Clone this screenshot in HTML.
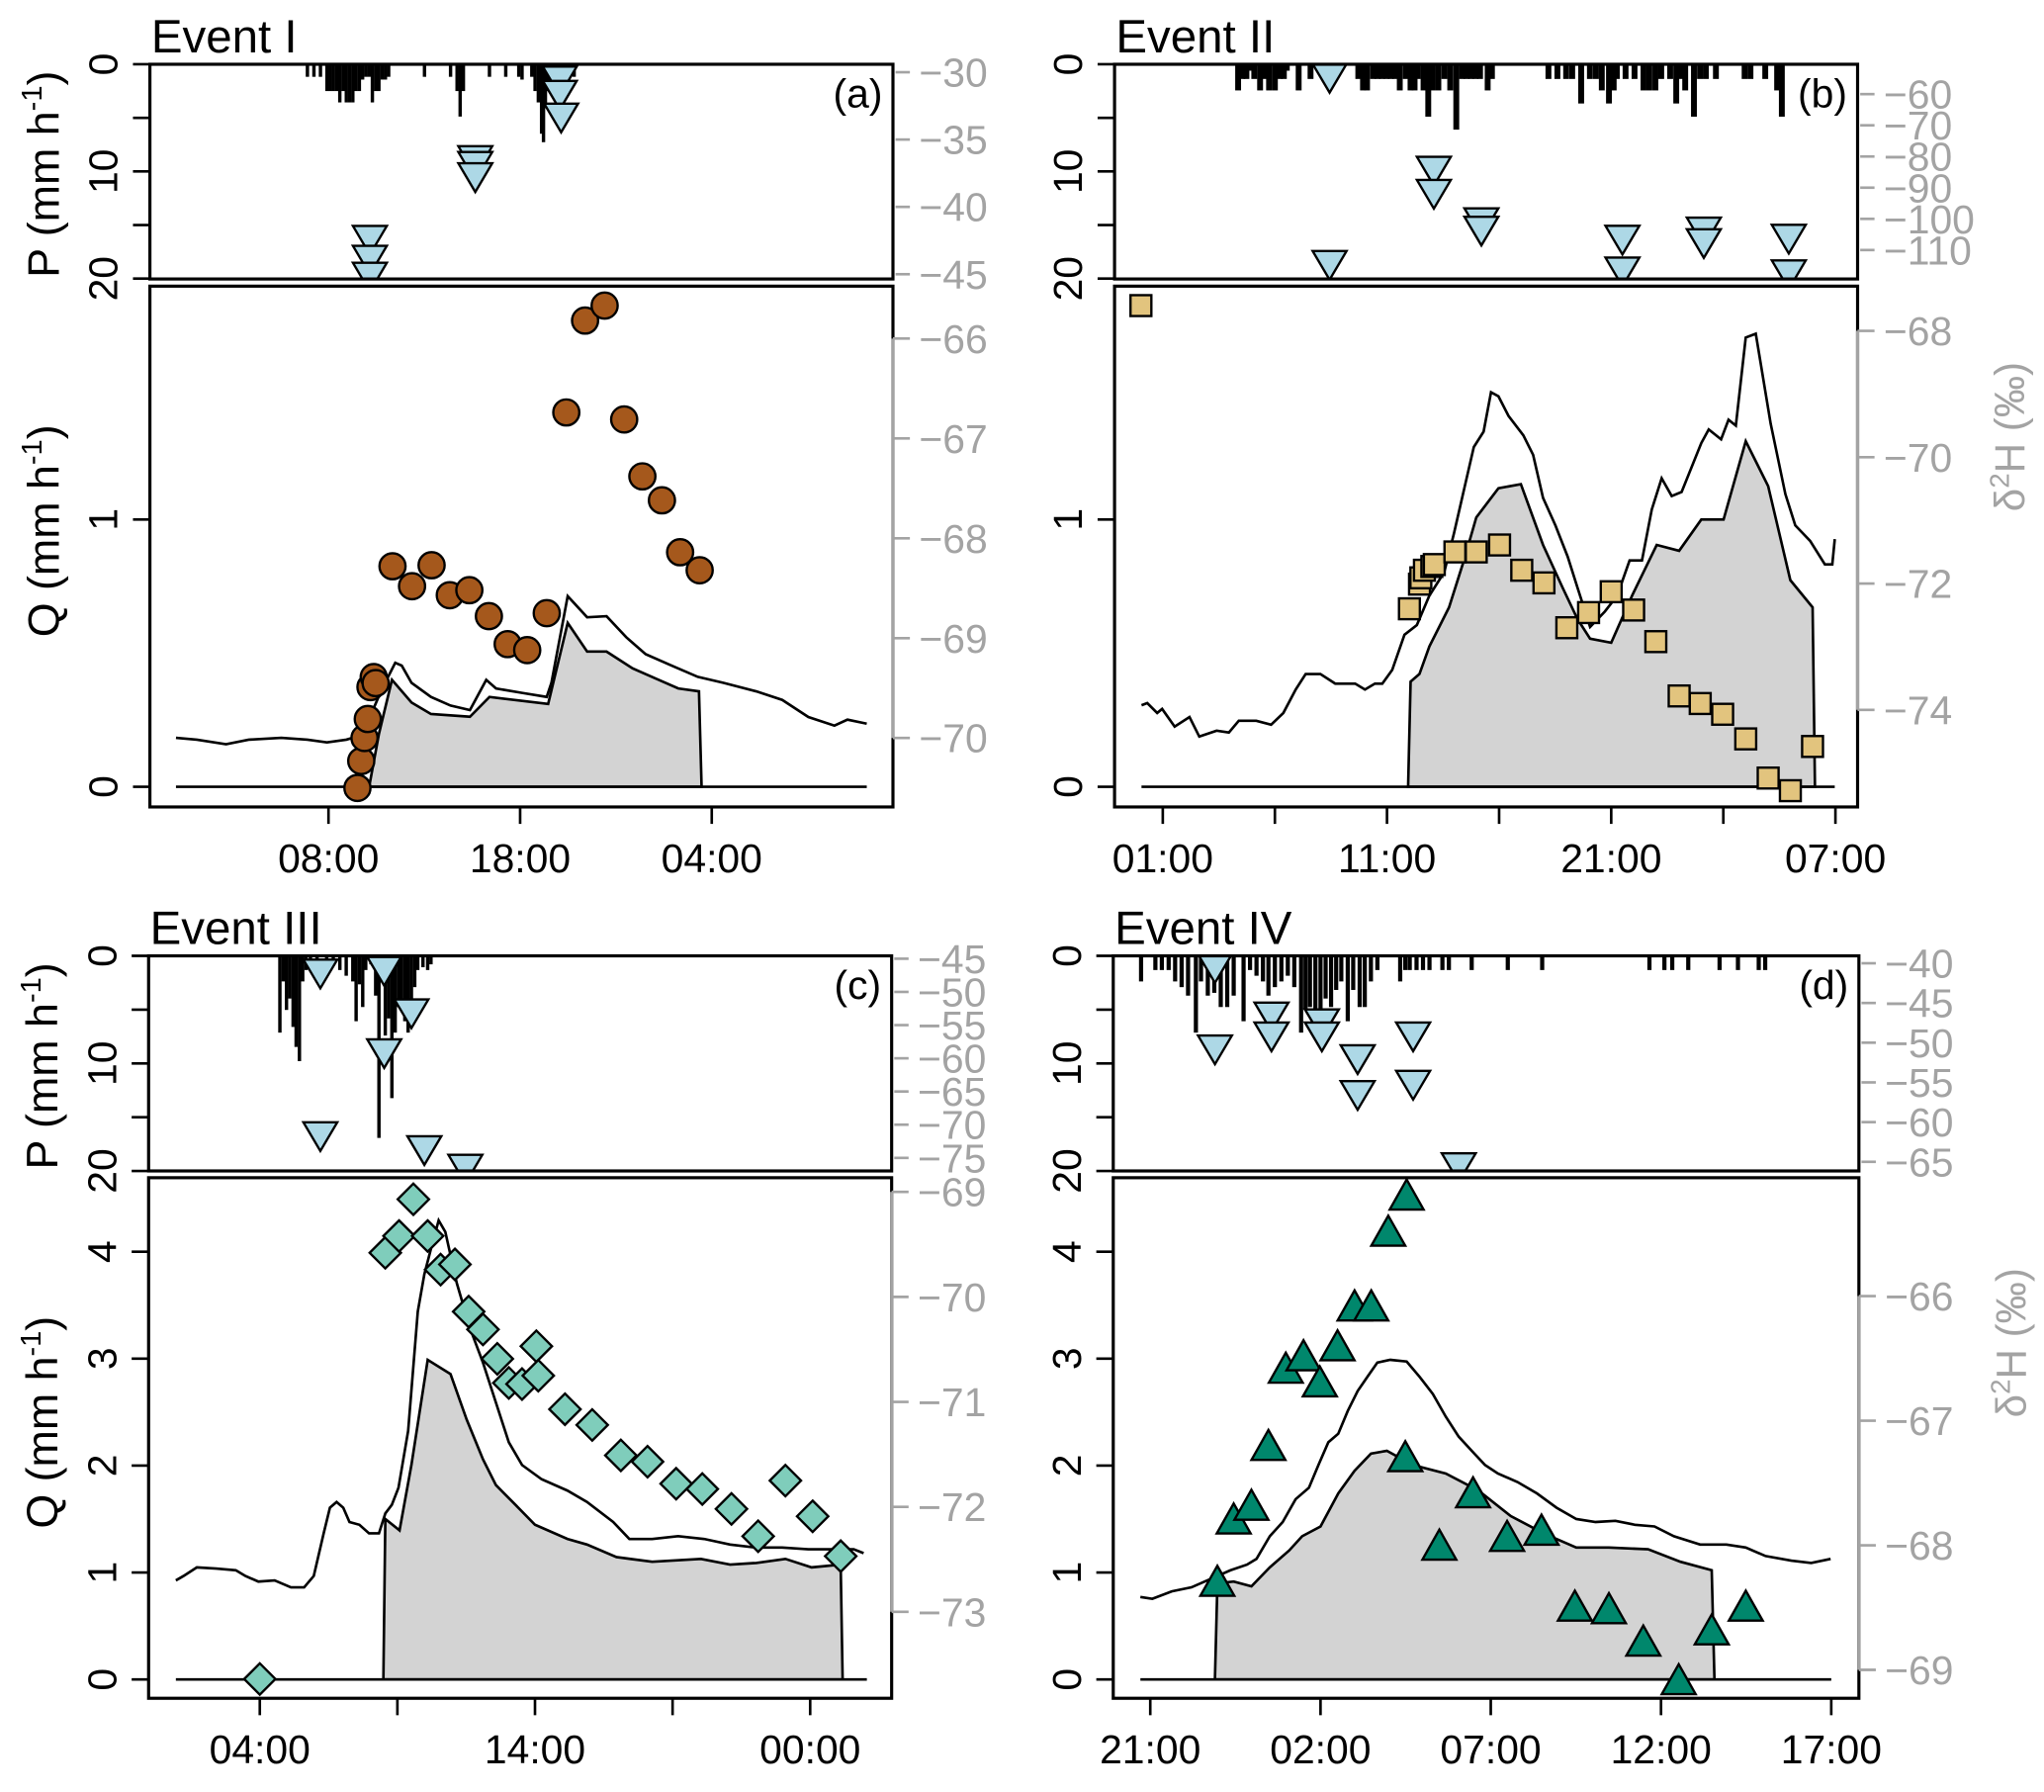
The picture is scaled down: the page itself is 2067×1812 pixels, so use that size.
<!DOCTYPE html>
<html><head><meta charset="utf-8"><style>
html,body{margin:0;padding:0;background:#fff;}
svg{display:block;font-family:"Liberation Sans",Arial,sans-serif;}
</style></head><body>
<svg id="chart" xmlns="http://www.w3.org/2000/svg" width="2067" height="1812" viewBox="0 0 1568 1374.6" preserveAspectRatio="none"></svg>
<script>
// ---------- Panel a data ----------
const aPrecipT=[6.90,7.24,7.58,7.92,8.08,8.25,8.42,8.59,8.76,8.93,9.10,9.27,9.44,9.61,9.78,9.95,10.12,10.29,10.46,10.63,10.80,10.97,11.14,13.01,14.37,14.71,14.87,15.04,16.40,17.25,17.93,18.10,18.61,18.78,18.95,19.12,19.22,19.32,19.46,19.63,20.14,20.48,20.82];
const aPrecipP=[1.17,1.17,1.17,2.5,2.5,2.5,2.5,3.56,2.5,3.56,3.56,3.56,2.5,2.5,1.43,1.17,1.17,3.56,2.5,2.5,1.43,1.43,1.17,1.17,1.17,2.5,4.88,2.5,1.17,1.17,1.17,1.43,1.17,2.5,3.56,6.48,7.27,4.09,2.5,1.43,1.17,1.43,1.17];
const aRainT=[10.16,10.16,10.16,15.66,15.66,15.66,20.07,20.07,20.14];
const aRainD=[-42.38,-43.86,-45.12,-36.46,-36.89,-37.73,-30.55,-31.61,-33.30];
const aStreamT=[9.51,9.71,9.88,10.05,10.19,10.36,10.46,11.34,12.36,13.38,14.33,15.35,16.37,17.35,18.37,19.39,20.41,21.39,22.41,23.43,24.38,25.40,26.35,27.37];
const aStreamD=[-70.50,-70.23,-70.00,-69.81,-69.49,-69.39,-69.45,-68.28,-68.48,-68.27,-68.57,-68.52,-68.78,-69.06,-69.12,-68.75,-66.74,-65.82,-65.67,-66.81,-67.38,-67.62,-68.14,-68.32];
const aQT=[0.04,1.13,2.65,3.84,5.54,6.90,7.92,8.93,9.44,10.29,10.80,11.48,11.82,12.33,13.35,14.37,15.38,16.23,16.74,18.10,19.39,19.63,20.48,20.82,21.50,22.51,23.53,24.55,25.91,27.27,28.62,30.32,31.68,33.04,34.40,35.08,36.09];
const aQ=[0.183,0.176,0.159,0.176,0.183,0.176,0.166,0.176,0.187,0.283,0.368,0.464,0.453,0.389,0.336,0.304,0.287,0.400,0.368,0.351,0.336,0.389,0.713,0.687,0.634,0.638,0.560,0.496,0.453,0.411,0.389,0.357,0.325,0.261,0.229,0.251,0.236];
const aEvT=[10.12,10.63,11.31,12.33,13.35,15.38,16.40,19.46,20.48,21.50,22.51,23.87,25.23,26.25,27.33,27.47];
const aEvQ=[0,0.198,0.400,0.315,0.272,0.262,0.336,0.310,0.613,0.506,0.506,0.443,0.400,0.368,0.357,0];
const aBase=[0.04,36.09];
const aXTicks=[8,18,28], aXLabels=['08:00','18:00','04:00'];
const aQTicks=[0,1], aQLabels=['0','1'];
const aDtTicks=[-30,-35,-40,-45], aDbTicks=[-66,-67,-68,-69,-70];

// ---------- Panel b data ----------
const bPrecipT=[4.36,4.55,4.73,4.89,5.08,5.34,5.53,5.74,6.0,6.22,6.40,6.53,7.06,7.59,9.72,9.93,10.11,10.38,10.58,10.78,10.98,11.17,11.37,11.57,11.84,12.05,12.23,12.37,12.63,12.84,13.03,13.29,13.56,13.82,14.09,14.35,14.55,14.75,14.95,15.15,15.49,15.68,18.2,18.6,18.99,19.26,19.66,20.05,20.32,20.58,20.9,21.11,21.25,21.64,22.04,22.44,22.7,22.97,23.23,23.63,23.9,24.08,24.3,24.69,24.96,25.22,25.67,26.95,27.21,27.87,28.4,28.61];
const bPrecipP=[2.44,1.37,1.37,0.6,1.37,2.44,1.37,2.44,2.44,1.37,1.37,0.6,2.44,1.37,1.37,2.44,2.44,1.37,1.37,1.37,1.37,1.37,1.37,2.44,1.37,2.44,2.44,1.37,2.44,4.89,2.44,2.44,1.37,2.44,6.1,1.37,1.37,1.37,1.37,1.37,2.44,1.37,1.37,1.37,1.37,1.37,3.66,1.37,1.37,2.44,3.66,2.44,1.37,1.37,1.37,2.44,2.44,2.44,1.37,1.37,3.66,1.37,2.44,4.89,1.37,1.37,1.37,1.37,1.37,1.37,2.44,4.89];
const bRainT=[8.44,8.44,13.09,13.09,15.21,15.21,21.50,21.50,25.13,25.13,28.92,28.92];
const bRainD=[-54.5,-114.5,-84.3,-91.7,-100.8,-103.5,-106.4,-116.6,-103.8,-107.5,-106.1,-117.5];
const bStreamT=[0.025,12.0,12.45,12.51,12.67,13.0,13.11,14.03,14.98,16.02,17.01,18.0,19.02,19.99,21.0,22.0,22.99,24.03,24.97,25.97,27.0,28.0,28.99,29.98];
const bStreamD=[-67.60,-72.40,-72.01,-71.91,-71.79,-71.73,-71.70,-71.50,-71.50,-71.39,-71.79,-71.99,-72.70,-72.46,-72.13,-72.42,-72.92,-73.78,-73.90,-74.07,-74.46,-75.08,-75.28,-74.58];
const bQT=[0.05,0.31,0.75,0.97,1.53,2.19,2.63,3.40,3.95,4.39,5.17,5.83,6.38,6.93,7.37,8.03,8.69,9.58,10.02,10.46,10.79,11.23,11.78,12.33,12.89,13.55,13.99,14.43,14.87,15.31,15.64,15.97,16.42,17.08,17.52,17.96,18.51,19.06,19.50,20.06,20.72,21.27,21.82,22.37,22.81,23.25,23.70,24.14,25.02,25.35,25.90,26.23,26.56,27.00,27.45,28.11,28.77,29.21,29.87,30.53,30.86,30.97];
const bQ=[0.305,0.313,0.276,0.291,0.225,0.261,0.188,0.210,0.203,0.247,0.247,0.232,0.276,0.364,0.422,0.422,0.386,0.386,0.364,0.386,0.386,0.437,0.569,0.605,0.715,0.803,0.949,1.110,1.271,1.329,1.476,1.461,1.388,1.315,1.242,1.081,0.978,0.861,0.744,0.598,0.656,0.715,0.847,0.847,1.037,1.154,1.088,1.103,1.286,1.337,1.300,1.373,1.351,1.681,1.695,1.359,1.095,0.978,0.920,0.832,0.832,0.927];
const bEvT=[11.94,12.05,12.45,12.89,13.77,14.43,14.98,15.97,16.97,17.96,18.84,19.50,20.06,21.00,21.93,23.03,24.03,25.02,26.01,27.00,28.00,28.99,29.98,30.09];
const bEvQ=[0,0.393,0.422,0.525,0.671,0.847,1.008,1.117,1.132,0.905,0.744,0.627,0.554,0.539,0.715,0.905,0.883,1.000,1.000,1.293,1.125,0.773,0.671,0];
const bBase=[0.05,30.97];
const bXTicks=[1,6,11,16,21,26,31], bXLabels=['01:00','','11:00','','21:00','','07:00'];
const bQTicks=[0,1], bQLabels=['0','1'];
const bDtTicks=[-60,-70,-80,-90,-100,-110], bDbTicks=[-68,-70,-72,-74];

// ---------- Panel c data ----------
const cPrecipT=[4.73,4.85,4.97,5.09,5.21,5.32,5.44,5.56,5.68,5.84,6.08,6.43,6.67,6.91,7.14,7.38,7.50,7.62,7.74,7.85,8.04,8.21,8.33,8.44,8.56,8.68,8.80,8.92,9.04,9.15,9.27,9.39,9.51,9.63,9.74,9.93,10.10,10.22];
const cPrecipP=[7.14,2.38,5.03,3.97,6.61,8.47,9.79,2.38,1.32,0.79,1.06,0.53,0.79,1.32,1.85,2.38,6.08,2.65,4.76,1.32,0.79,3.70,16.93,2.38,7.41,5.82,13.23,7.14,4.76,5.03,6.08,7.14,3.97,2.91,1.32,1.06,1.32,0.79];
const cRainT=[6.20,6.20,8.52,8.52,9.51,9.98,11.47];
const cRainD=[-47.1,-71.6,-46.7,-59.1,-53.1,-73.7,-76.5];
const cStreamT=[4.0,8.56,9.06,9.58,10.10,10.57,11.09,11.59,12.11,12.63,13.05,13.53,14.05,14.12,15.09,16.08,17.12,18.09,19.13,20.08,21.14,22.11,23.10,24.09,25.11];
const cStreamD=[-73.64,-69.58,-69.42,-69.07,-69.42,-69.74,-69.69,-70.14,-70.31,-70.59,-70.82,-70.83,-70.47,-70.75,-71.07,-71.22,-71.51,-71.57,-71.78,-71.83,-72.02,-72.28,-71.75,-72.09,-72.47];
const cQT=[0.95,1.23,1.71,2.42,3.13,3.48,3.95,4.54,5.13,5.61,5.96,6.32,6.55,6.79,7.03,7.26,7.62,7.97,8.33,8.56,8.80,9.04,9.39,9.74,9.98,10.22,10.50,10.74,11.16,11.64,12.11,12.58,13.05,13.53,14.24,15.18,15.89,16.84,17.43,18.26,19.20,20.15,21.09,22.04,22.98,23.93,24.87,25.58,25.94];
const cQ=[0.926,0.968,1.048,1.037,1.021,0.968,0.915,0.926,0.862,0.862,0.968,1.367,1.606,1.660,1.606,1.473,1.447,1.367,1.367,1.553,1.633,1.793,2.324,3.441,3.787,4.027,4.293,4.186,3.707,3.282,2.963,2.590,2.218,2.005,1.872,1.766,1.660,1.473,1.314,1.314,1.340,1.314,1.261,1.234,1.234,1.218,1.218,1.218,1.181];
const cEvT=[8.49,8.56,9.08,9.51,10.10,10.93,11.52,12.11,12.58,13.29,14.0,15.18,15.89,16.96,18.26,20.03,21.09,22.04,23.10,24.05,25.11,25.18];
const cEvQ=[0,1.5,1.394,2.005,2.989,2.856,2.431,2.059,1.819,1.633,1.447,1.314,1.261,1.144,1.101,1.128,1.074,1.090,1.128,1.048,1.074,0];
const cBase=[0.95,26.06];
const cXTicks=[4,9,14,19,24], cXLabels=['04:00','','14:00','','00:00'];
const cQTicks=[0,1,2,3,4], cQLabels=['0','1','2','3','4'];
const cDtTicks=[-45,-50,-55,-60,-65,-70,-75], cDbTicks=[-69,-70,-71,-72,-73];

// ---------- Panel d data ----------
const dPrecipT=[20.73,21.15,21.34,21.54,21.73,21.92,22.11,22.34,22.49,22.69,22.88,23.07,23.26,23.45,23.74,23.93,24.12,24.31,24.47,24.66,24.85,25.04,25.23,25.43,25.56,25.69,25.85,26.0,26.15,26.31,26.46,26.61,26.80,26.96,27.15,27.30,27.48,27.67,28.34,28.49,28.62,28.82,29.01,29.20,29.58,29.77,30.44,31.50,32.51,35.66,36.10,36.33,36.80,37.72,38.26,38.87,39.06];
const dPrecipP=[2.38,1.32,1.32,1.32,2.38,2.91,3.70,7.14,2.38,3.70,3.44,4.76,4.76,3.70,6.08,1.32,1.85,2.38,3.70,2.91,2.38,1.85,2.91,7.14,5.03,4.76,5.03,6.88,3.97,4.76,3.17,2.38,6.08,3.17,4.76,4.76,2.38,1.32,2.38,1.32,1.32,1.32,1.32,1.32,1.32,1.32,1.32,1.32,1.32,1.32,1.32,1.32,1.32,1.32,1.32,1.32,1.32];
const dRainT=[22.90,22.90,24.56,24.56,26.04,26.04,27.09,27.09,28.72,28.72,30.06];
const dRainD=[-50.74,-40.50,-46.59,-49.10,-47.45,-49.10,-51.96,-56.48,-49.10,-55.19,-65.57];
const dStreamT=[22.97,23.45,23.97,24.47,24.98,25.50,25.98,26.50,27.00,27.49,27.99,28.53,28.49,29.49,30.48,31.48,32.49,33.47,34.47,35.48,36.52,37.49,38.49];
const dStreamD=[-68.29,-67.79,-67.68,-67.20,-66.58,-66.48,-66.69,-66.40,-66.08,-66.08,-65.48,-65.19,-67.29,-68.00,-67.58,-67.93,-67.88,-68.49,-68.51,-68.77,-69.08,-68.68,-68.49];
const dQT=[20.71,21.06,21.63,22.21,22.78,23.36,23.84,24.12,24.51,24.89,25.27,25.66,25.94,26.23,26.52,26.80,27.09,27.38,27.67,28.05,28.53,28.91,29.30,29.68,30.06,30.44,30.83,31.21,31.79,32.36,32.93,33.51,34.08,34.66,35.23,35.81,36.38,37.15,37.92,38.49,39.07,39.83,40.41,40.98];
const dQ=[0.771,0.755,0.824,0.862,0.941,1.021,1.074,1.128,1.340,1.473,1.686,1.793,2.005,2.218,2.298,2.511,2.697,2.830,2.963,2.989,2.973,2.830,2.670,2.457,2.271,2.138,2.005,1.926,1.846,1.739,1.606,1.500,1.473,1.484,1.447,1.431,1.340,1.261,1.261,1.234,1.154,1.112,1.090,1.128];
const dEvT=[22.90,22.97,23.45,23.97,24.51,25.08,25.46,26.0,26.52,27.0,27.48,27.95,28.72,29.68,30.64,31.59,32.55,33.51,34.47,35.62,36.57,37.49,37.57];
const dEvQ=[0,0.899,0.915,0.872,1.048,1.207,1.340,1.431,1.739,1.952,2.112,2.138,2.005,1.926,1.766,1.527,1.367,1.234,1.234,1.218,1.101,1.021,0];
const dBase=[20.71,41.0];
const dXTicks=[21,26,31,36,41], dXLabels=['21:00','02:00','07:00','12:00','17:00'];
const dQTicks=[0,1,2,3,4], dQLabels=['0','1','2','3','4'];
const dDtTicks=[-40,-45,-50,-55,-60,-65], dDbTicks=[-66,-67,-68,-69];

const pTicks=[0,5,10,15,20], pLabels=['0','','10','','20'];

const NS='http://www.w3.org/2000/svg';
const svg=document.getElementById('chart');
function mk(tag,parent){const e=document.createElementNS(NS,tag);parent.appendChild(e);return e;}
function set(e,o){for(const k in o)e.setAttribute(k,o[k]);}
const GRAY='#a3a3a3';
const defs=mk('defs',svg);

function fmtNum(v){return v<0?'\u2212'+Math.abs(v):String(v);}

function drawPanel(P){
  const g=mk('g',svg);
  
  
  // clip for top box
  const cp=mk('clipPath',defs); cp.setAttribute('id','clip-'+P.id);
  const cr=mk('rect',cp); set(cr,{x:P.x0,y:P.tY0,width:P.x1-P.x0,height:P.tY1-P.tY0});
  const cpb=mk('clipPath',defs); cpb.setAttribute('id','clipb-'+P.id);
  const crb=mk('rect',cpb); set(crb,{x:P.x0,y:P.bY0,width:P.x1-P.x0,height:P.bY1-P.bY0});

  // title
  const t=mk('text',g); set(t,{x:P.x0+1,y:P.tY0-9,'font-size':36,fill:'#000'}); t.textContent=P.title;
   

  // precipitation bars
  const bars=mk('g',g); bars.setAttribute('clip-path','url(#clip-'+P.id+')');
   
  P.pT.forEach((h,i)=>{const r=mk('rect',bars);
    set(r,{x:P.xs(h)-P.bw/2,y:P.yP(0),width:P.bw,height:P.yP(P.pV[i])-P.yP(0),fill:'#000'});
     });

  // rain isotope triangles
  const rt=mk('g',g); rt.setAttribute('clip-path','url(#clip-'+P.id+')');
   
  P.rT.forEach((h,i)=>{const cx=P.xs(h),cy=P.yDt(P.rD[i]);const p=mk('polygon',rt);
    set(p,{points:`${cx-13},${cy-10} ${cx+13},${cy-10} ${cx},${cy+12}`,fill:'#add8e6',stroke:'#000','stroke-width':1.8});
     });

  // top box
  const tb=mk('rect',g); set(tb,{x:P.x0,y:P.tY0,width:P.x1-P.x0,height:P.tY1-P.tY0,fill:'none',stroke:'#000','stroke-width':2.4});
   
  const lab=mk('text',g); set(lab,{x:P.x1-8,y:P.tY0+33,'font-size':31,'text-anchor':'end'}); lab.textContent='('+P.id+')';
   

  // left P axis
  pTicks.forEach((v,i)=>{const y=P.yP(v);const l=mk('line',g);
    set(l,{x1:P.x0-13,x2:P.x0,y1:y,y2:y,stroke:'#000','stroke-width':2});
     
    if(pLabels[i]){const tx=mk('text',g);set(tx,{x:0,y:0,'font-size':31,'text-anchor':'middle',transform:`translate(${P.x0-25},${y}) rotate(-90)`});tx.textContent=pLabels[i];
       }});
  // right top isotope axis
  P.dtTicks.forEach(v=>{const y=P.yDt(v);const l=mk('line',g);
    set(l,{x1:P.x1+2,x2:P.x1+13,y1:y,y2:y,stroke:GRAY,'stroke-width':2});
     
    const tx=mk('text',g);set(tx,{x:P.x1+20,y:y+11,'font-size':31,fill:GRAY});tx.textContent=fmtNum(v);
     });

  // bottom panel: event water area
  const bg=mk('g',g); bg.setAttribute('clip-path','url(#clipb-'+P.id+')');
   
  let d=''; P.eT.forEach((h,i)=>{d+=(i?'L':'M')+P.xs(h).toFixed(1)+','+P.yQ(P.eQ[i]).toFixed(1);});
  const area=mk('path',bg); set(area,{d:d+'Z',fill:'#d3d3d3',stroke:'#000','stroke-width':2});
   
  const base=mk('line',bg); set(base,{x1:P.xs(P.base[0]),x2:P.xs(P.base[1]),y1:P.yQ(0),y2:P.yQ(0),stroke:'#000','stroke-width':2});
   
  let d2=''; P.qT.forEach((h,i)=>{d2+=(i?'L':'M')+P.xs(h).toFixed(1)+','+P.yQ(P.qV[i]).toFixed(1);});
  const ql=mk('path',bg); set(ql,{d:d2,fill:'none',stroke:'#000','stroke-width':2});
   

  // stream isotope markers
  P.sT.forEach((h,i)=>{const cx=P.xs(h),cy=P.yDb(P.sD[i]);let m;
    if(P.shape==='circle'){m=mk('circle',bg);set(m,{cx,cy,r:10,fill:'#a5581c'});}
    else if(P.shape==='square'){m=mk('rect',bg);set(m,{x:cx-8,y:cy-8,width:16,height:16,fill:'#e2c47e'});}
    else if(P.shape==='diamond'){m=mk('polygon',bg);set(m,{points:`${cx},${cy-12} ${cx+12},${cy} ${cx},${cy+12} ${cx-12},${cy}`,fill:'#7fcdbb'});}
    else {m=mk('polygon',bg);set(m,{points:`${cx-13},${cy+11} ${cx+13},${cy+11} ${cx},${cy-12}`,fill:'#00876c'});}
    set(m,{stroke:'#000','stroke-width':1.8});
     });

  const bb=mk('rect',g); set(bb,{x:P.x0,y:P.bY0,width:P.x1-P.x0,height:P.bY1-P.bY0,fill:'none',stroke:'#000','stroke-width':2.4});
   

  // left Q axis
  P.qTicks.forEach((v,i)=>{const y=P.yQ(v);const l=mk('line',g);
    set(l,{x1:P.x0-13,x2:P.x0,y1:y,y2:y,stroke:'#000','stroke-width':2});
     
    const tx=mk('text',g);set(tx,{x:0,y:0,'font-size':31,'text-anchor':'middle',transform:`translate(${P.x0-25},${y}) rotate(-90)`});tx.textContent=P.qLabels[i];
     });
  // right bottom isotope axis
  const y1=P.yDb(P.dbTicks[0]),y2=P.yDb(P.dbTicks[P.dbTicks.length-1]);
  const al=mk('line',g); set(al,{x1:P.x1,x2:P.x1,y1,y2,stroke:GRAY,'stroke-width':2.4});
   
  P.dbTicks.forEach(v=>{const y=P.yDb(v);const l=mk('line',g);
    set(l,{x1:P.x1,x2:P.x1+13,y1:y,y2:y,stroke:GRAY,'stroke-width':2});
     
    const tx=mk('text',g);set(tx,{x:P.x1+20,y:y+11,'font-size':31,fill:GRAY});tx.textContent=fmtNum(v);
     });
  // x axis
  P.xTicks.forEach((h,i)=>{const x=P.xs(h);const l=mk('line',g);
    set(l,{x1:x,x2:x,y1:P.bY1,y2:P.bY1+13,stroke:'#000','stroke-width':2});
     
    if(P.xLabels[i]){const tx=mk('text',g);set(tx,{x,y:P.bY1+50,'font-size':31,'text-anchor':'middle'});tx.textContent=P.xLabels[i];
       }});

  // axis titles
  if(P.leftTitles){
    [['P',(P.tY0+P.tY1)/2+2],['Q',(P.bY0+P.bY1)/2-12]].forEach(([s,cy])=>{
      const tx=mk('text',g);set(tx,{x:0,y:0,'font-size':34,'text-anchor':'middle',transform:`translate(${P.x0-70},${cy}) rotate(-90)`});
      tx.innerHTML=s+' (mm h<tspan font-size="22" dy="-13">-1</tspan><tspan dy="13">)</tspan>';
       });
  }
  if(P.rightTitle){
    const tx=mk('text',g);set(tx,{x:0,y:0,'font-size':32,'text-anchor':'middle',fill:GRAY,transform:`translate(${P.x1+128},${P.rightTitleY}) rotate(-90)`});
    tx.innerHTML='δ<tspan font-size="21" dy="-12">2</tspan><tspan dy="12">H (‰)</tspan>';
     
  }
}

drawPanel({id:'a',title:'Event I',x0:115,x1:685,tY0:49.3,tY1:214,bY0:219.5,bY1:619,
  xs:h=>252+(h-8)*14.7,yP:p=>49.3+p*8.22,yQ:q=>603.5-q*205,yDt:d=>55.4+(-30-d)*10.33,yDb:d=>259.7+(-66-d)*76.6,
  bw:2.6,pT:aPrecipT,pV:aPrecipP,rT:aRainT,rD:aRainD,sT:aStreamT,sD:aStreamD,shape:'circle',
  qT:aQT,qV:aQ,eT:aEvT,eQ:aEvQ,base:aBase,xTicks:aXTicks,xLabels:aXLabels,qTicks:aQTicks,qLabels:aQLabels,
  dtTicks:aDtTicks,dbTicks:aDbTicks,leftTitles:true,rightTitle:false});
drawPanel({id:'b',title:'Event II',x0:855,x1:1425,tY0:49.3,tY1:214,bY0:219.5,bY1:619,
  xs:h=>892+(h-1)*17.2,yP:p=>49.3+p*8.22,yQ:q=>603.5-q*205,yDt:d=>72.2+(-60-d)*2.392,yDb:d=>253.8+(-68-d)*48.45,
  bw:4.5,pT:bPrecipT,pV:bPrecipP,rT:bRainT,rD:bRainD,sT:bStreamT,sD:bStreamD,shape:'square',
  qT:bQT,qV:bQ,eT:bEvT,eQ:bEvQ,base:bBase,xTicks:bXTicks,xLabels:bXLabels,qTicks:bQTicks,qLabels:bQLabels,
  dtTicks:bDtTicks,dbTicks:bDbTicks,leftTitles:false,rightTitle:true,rightTitleY:335});
drawPanel({id:'c',title:'Event III',x0:114,x1:684,tY0:733.2,tY1:898.2,bY0:903.4,bY1:1302.7,
  xs:h=>199.3+(h-4)*21.11,yP:p=>733.2+p*8.25,yQ:q=>1288.3-q*82.04,yDt:d=>735.4+(-45-d)*5.093,yDb:d=>914.3+(-69-d)*80.52,
  bw:2.6,pT:cPrecipT,pV:cPrecipP,rT:cRainT,rD:cRainD,sT:cStreamT,sD:cStreamD,shape:'diamond',
  qT:cQT,qV:cQ,eT:cEvT,eQ:cEvQ,base:cBase,xTicks:cXTicks,xLabels:cXLabels,qTicks:cQTicks,qLabels:cQLabels,
  dtTicks:cDtTicks,dbTicks:cDbTicks,leftTitles:true,rightTitle:false});
drawPanel({id:'d',title:'Event IV',x0:854,x1:1426,tY0:733.2,tY1:898.2,bY0:903.4,bY1:1302.7,
  xs:h=>882.4+(h-21)*26.12,yP:p=>733.2+p*8.25,yQ:q=>1288.3-q*82.04,yDt:d=>738.9+(-40-d)*6.092,yDb:d=>994.2+(-66-d)*95.57,
  bw:3.2,pT:dPrecipT,pV:dPrecipP,rT:dRainT,rD:dRainD,sT:dStreamT,sD:dStreamD,shape:'triangle',
  qT:dQT,qV:dQ,eT:dEvT,eQ:dEvQ,base:dBase,xTicks:dXTicks,xLabels:dXLabels,qTicks:dQTicks,qLabels:dQLabels,
  dtTicks:dDtTicks,dbTicks:dDbTicks,leftTitles:false,rightTitle:true,rightTitleY:1030});
</script>
</body></html>
